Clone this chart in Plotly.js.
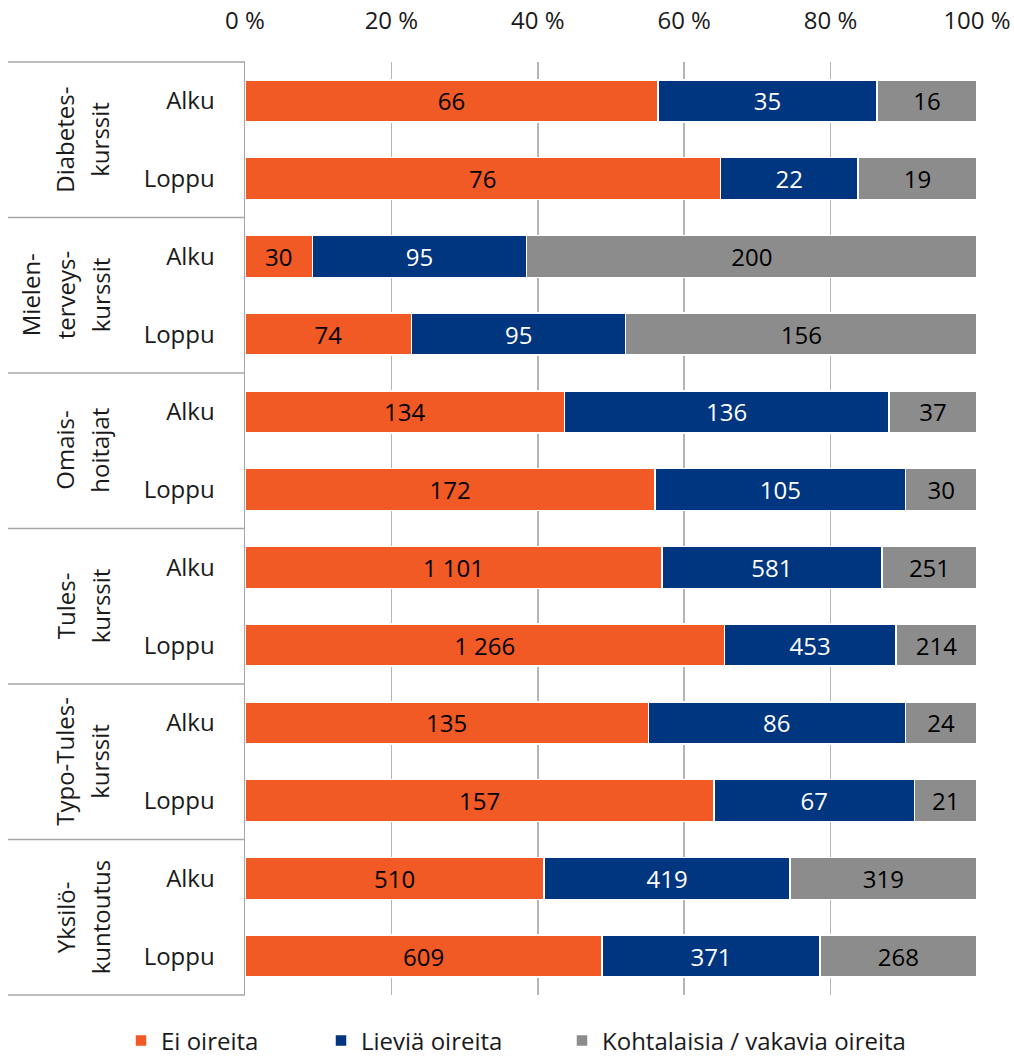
<!DOCTYPE html>
<html>
<head>
<meta charset="utf-8">
<script src="https://cdn.plot.ly/plotly-3.0.1.min.js"></script>
<style>
  html, body { margin: 0; padding: 0; background: #ffffff; }
  #chart { width: 1014px; height: 1056px; }
</style>
</head>
<body>
<div id="chart"></div>
<script>
// ---- Data ----
const groups = ["Diabetes-<br>kurssit", "Mielen-<br>terveys-<br>kurssit", "Omais-<br>hoitajat", "Tules-<br>kurssit", "Typo-Tules-<br>kurssit", "Yksilö-<br>kuntoutus"];
const phases = ["Alku", "Loppu"];
const seriesNames = ["Ei oireita", "Lieviä oireita", "Kohtalaisia / vakavia oireita"];
// counts per bar (group x phase), in order from top to bottom
const eiOireita      = [66, 76, 30, 74, 134, 172, 1101, 1266, 135, 157, 510, 609];
const lieviaOireita  = [35, 22, 95, 95, 136, 105, 581, 453, 86, 67, 419, 371];
const vakaviaOireita = [16, 19, 200, 156, 37, 30, 251, 214, 24, 21, 319, 268];
const xTickVals = [0, 20, 40, 60, 80, 100];

// ---- Styles ----
const colors = ["#F15A24", "#00367F", "#8C8C8C"];
const textColors = ["#000000", "#ffffff", "#000000"];
const FONT = "Open Sans, Noto Sans, DejaVu Sans, sans-serif";
const FS = 24;
const PLOT_L = 245, PLOT_W = 732, PLOT_B = 995, PLOT_H = 933;
const px2paper = p => (p - PLOT_L) / PLOT_W;
const py2paper = p => -(p - PLOT_B) / PLOT_H;

const nBars = eiOireita.length;
const yPos = eiOireita.map((_, i) => i);
const totals = eiOireita.map((v, i) => v + lieviaOireita[i] + vakaviaOireita[i]);
const yLabels = yPos.map(i => phases[i % 2]);

function fmt(n) {
  return String(n).replace(/\B(?=(\d{3})+(?!\d))/g, "\u00a0");
}

const legendIds = ["legend", "legend2", "legend3"];
const legendPx = [121, 321, 562];

const seriesData = [eiOireita, lieviaOireita, vakaviaOireita];
const traces = seriesData.map((vals, s) => ({
  type: "bar",
  orientation: "h",
  name: seriesNames[s],
  legend: legendIds[s],
  y: yPos,
  x: vals.map((v, i) => v / totals[i] * 100),
  text: vals.map(fmt),
  textposition: "inside",
  insidetextanchor: "middle",
  constraintext: "none",
  textangle: 0,
  textfont: { family: FONT, size: FS, color: textColors[s] },
  marker: { color: colors[s], line: { color: "#ffffff", width: 1.5 } },
  width: 0.54,
  hoverinfo: "skip"
}));

// group separator lines (left box) and group labels
const shapes = [];
for (let k = 0; k <= groups.length; k++) {
  shapes.push({
    type: "line", xref: "paper", yref: "paper",
    x0: px2paper(8), x1: 0, y0: 1 - k / groups.length, y1: 1 - k / groups.length,
    line: { color: "#a6a6a6", width: 1.5 }, layer: "above"
  });
}
const annotations = [];
groups.forEach((g, k) => {
  const lines = g.split("<br>");
  const n = lines.length;
  lines.forEach((ln, j) => {
    annotations.push({
      xref: "paper", yref: "y",
      x: px2paper(100 - (n - 1 - j) * 35), xanchor: "center",
      y: 2 * k + 0.5, yanchor: "middle",
      text: ln, textangle: -90, showarrow: false, align: "center",
      font: { family: FONT, size: FS, color: "#1a1a1a" }
    });
  });
});

const legendBase = {
  orientation: "h", xanchor: "left", y: py2paper(1041), yanchor: "middle",
  font: { family: FONT, size: FS, color: "#1a1a1a" },
  itemclick: false, bgcolor: "rgba(0,0,0,0)"
};

const layout = {
  width: 1014, height: 1056,
  margin: { l: 245, r: 37, t: 62, b: 61, autoexpand: false },
  paper_bgcolor: "#ffffff", plot_bgcolor: "#ffffff",
  barmode: "stack",
  showlegend: true,
  legend:  Object.assign({}, legendBase, { x: px2paper(legendPx[0]) }),
  legend2: Object.assign({}, legendBase, { x: px2paper(legendPx[1]) }),
  legend3: Object.assign({}, legendBase, { x: px2paper(legendPx[2]) }),
  xaxis: {
    side: "top", range: [0, 100], tickvals: xTickVals,
    ticktext: xTickVals.map(v => v + " %"),
    showgrid: true, gridcolor: "#b5b5b5", gridwidth: 1.5,
    zeroline: false, showline: false,
    ticks: "outside", ticklen: 22, tickcolor: "rgba(0,0,0,0)",
    tickfont: { family: FONT, size: FS, color: "#1a1a1a" },
    fixedrange: true
  },
  yaxis: {
    range: [nBars - 0.5, -0.5],
    tickvals: yPos, ticktext: yLabels,
    showgrid: false, zeroline: false,
    showline: true, linecolor: "#a6a6a6", linewidth: 1.5,
    ticks: "outside", ticklen: 24, tickcolor: "rgba(0,0,0,0)",
    tickfont: { family: FONT, size: FS, color: "#1a1a1a" },
    fixedrange: true
  },
  shapes: shapes,
  annotations: annotations,
  font: { family: FONT, size: FS, color: "#1a1a1a" }
};

Plotly.newPlot("chart", traces, layout, { displayModeBar: false, staticPlot: true });
</script>
</body>
</html>
